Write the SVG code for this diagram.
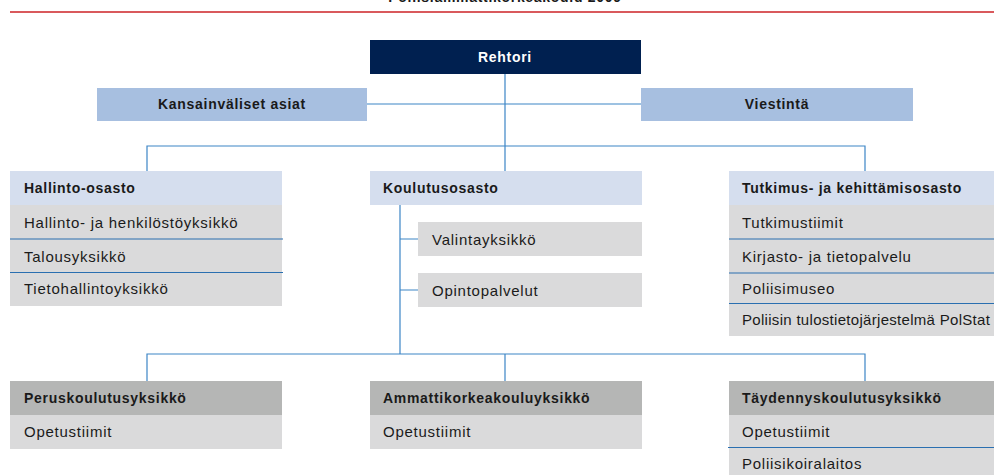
<svg xmlns="http://www.w3.org/2000/svg" width="994" height="475" viewBox="0 0 994 475">
<style>
text{font-family:"Liberation Sans",Arial,sans-serif;fill:#1a1a1a}
.b{font-weight:bold;font-size:14px;letter-spacing:0.7px}
.r{font-size:15px;letter-spacing:0.75px}
.c{text-anchor:middle}
.hd{fill:#d5deee}
.row{fill:#dadadb}
.gh{fill:#b5b6b5}
.lb{fill:#a7bfe0}
.dv{stroke:#2a6fb0;stroke-width:1.2}
.cn{stroke:#3d85c6;stroke-width:1.2;fill:none}
</style>
<rect width="994" height="475" fill="#fff"/>
<text class="b c" x="505" y="2">Poliisiammattikorkeakoulu 2009</text>
<line x1="10" y1="12" x2="994" y2="12" stroke="#d9595c" stroke-width="2"/>
<g id="connectors">
<path class="cn" d="M505 74V172M367 104H641M147 172V146H865V172M400 205V354M400 239H418M400 290H418M147 381V354H865V381M505 354V381"/>
</g>
<g id="rehtori"><rect x="370" y="40" width="271" height="34" fill="#002050"/><text class="b c" x="505" y="62" style="fill:#fff">Rehtori</text></g>
<g id="kansainvaliset"><rect class="lb" x="97" y="88" width="270" height="33"/><text class="b c" x="232" y="109">Kansainväliset asiat</text></g>
<g id="viestinta"><rect class="lb" x="641" y="88" width="272" height="33"/><text class="b c" x="777" y="109">Viestintä</text></g>
<g id="hallinto">
<rect class="hd" x="10" y="171" width="272" height="34"/><text class="b" x="24" y="193">Hallinto-osasto</text>
<rect class="row" x="10" y="205" width="272" height="101"/>
<line class="dv" x1="10" y1="239" x2="283" y2="239"/><line class="dv" x1="10" y1="272.5" x2="283" y2="272.5"/>
<text class="r" x="24" y="228">Hallinto- ja henkilöstöyksikkö</text>
<text class="r" x="24" y="262">Talousyksikkö</text>
<text class="r" x="24" y="294">Tietohallintoyksikkö</text>
</g>
<g id="koulutus">
<rect class="hd" x="370" y="171" width="272" height="34"/><text class="b" x="383" y="193">Koulutusosasto</text>
</g>
<g id="valinta"><rect class="row" x="418" y="222" width="224" height="34"/><text class="r" x="432" y="245">Valintayksikkö</text></g>
<g id="opinto"><rect class="row" x="418" y="273" width="224" height="34"/><text class="r" x="432" y="296">Opintopalvelut</text></g>
<g id="tutkimus">
<rect class="hd" x="729" y="171" width="265" height="34"/><text class="b" x="742" y="193">Tutkimus- ja kehittämisosasto</text>
<rect class="row" x="729" y="205" width="265" height="131"/>
<line class="dv" x1="729" y1="239" x2="994" y2="239"/><line class="dv" x1="729" y1="273" x2="994" y2="273"/><line class="dv" x1="729" y1="303.5" x2="994" y2="303.5"/>
<text class="r" x="742" y="228">Tutkimustiimit</text>
<text class="r" x="742" y="262">Kirjasto- ja tietopalvelu</text>
<text class="r" x="742" y="294">Poliisimuseo</text>
<text class="r" x="742" y="325" style="letter-spacing:0.3px">Poliisin tulostietojärjestelmä PolStat</text>
</g>
<g id="perus">
<rect class="gh" x="10" y="381" width="272" height="34"/><text class="b" x="24" y="403">Peruskoulutusyksikkö</text>
<rect class="row" x="10" y="415" width="272" height="34"/><text class="r" x="24" y="437">Opetustiimit</text>
</g>
<g id="amk">
<rect class="gh" x="370" y="381" width="272" height="34"/><text class="b" x="383" y="403">Ammattikorkeakouluyksikkö</text>
<rect class="row" x="370" y="415" width="272" height="34"/><text class="r" x="383" y="437">Opetustiimit</text>
</g>
<g id="taydennys">
<rect class="gh" x="729" y="381" width="265" height="34"/><text class="b" x="742" y="403">Täydennyskoulutusyksikkö</text>
<rect class="row" x="729" y="415" width="265" height="60"/>
<line class="dv" x1="728" y1="447.5" x2="994" y2="447.5"/>
<text class="r" x="742" y="437">Opetustiimit</text>
<text class="r" x="742" y="469">Poliisikoiralaitos</text>
</g>
</svg>
